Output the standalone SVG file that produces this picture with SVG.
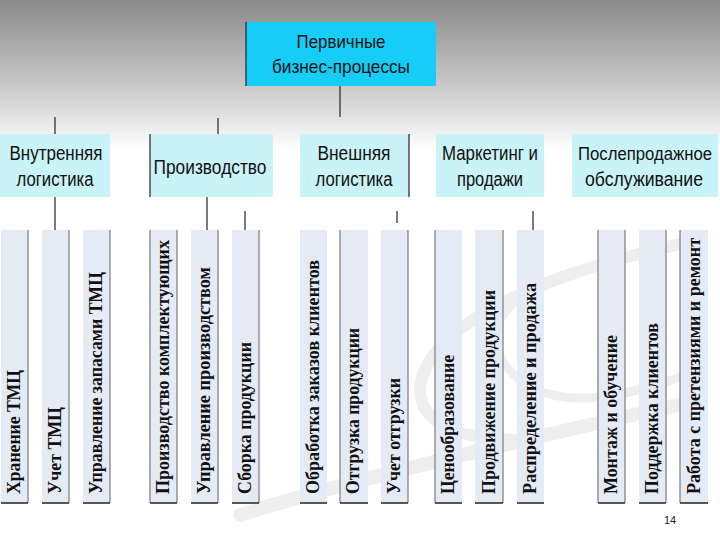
<svg xmlns="http://www.w3.org/2000/svg" width="720" height="540" viewBox="0 0 720 540">
<defs>
<linearGradient id="bg" x1="0" y1="0" x2="0" y2="1">
<stop offset="0" stop-color="#8a8a8a"/>
<stop offset="0.55" stop-color="#c6c6c6"/>
<stop offset="1" stop-color="#ffffff"/>
</linearGradient>
</defs>
<style>
.top{fill:#15cdf7}
.cat{fill:#c9f3f6}
.bar{fill:#e5ebf5}
.ct{font-family:"Liberation Sans",Arial,sans-serif;font-size:20px;fill:#111;text-anchor:middle}
.tt{font-family:"Liberation Sans",Arial,sans-serif;font-size:19px;fill:#111;text-anchor:middle}
.bt{font-family:"Liberation Serif","Times New Roman",serif;font-size:18px;font-weight:bold;fill:#111}
.ln{stroke:#222;stroke-width:1.2;fill:none}
.sh{stroke:#7a7a7a;stroke-width:1.2}
.bl{stroke:#222;stroke-width:1.5}
.sw{fill:none;stroke:#eeeeee;stroke-linecap:round}
</style>
<rect width="720" height="540" fill="#fff"/>
<rect width="720" height="150" fill="url(#bg)"/>
<g id="decor">
<path class="sw" stroke-width="12" d="M700 240 C600 260 470 300 430 360 C400 410 440 440 520 440"/>
<path class="sw" stroke-width="9" d="M580 270 C500 290 470 340 520 380 C560 410 620 400 700 370"/>
<path class="sw" stroke-width="14" d="M240 515 C350 480 520 440 700 400"/>
</g>
<g id="n0"><rect class="top" x="246" y="22" width="190" height="64"/><line class="ln" x1="246" y1="22" x2="246" y2="86"/>
<text class="tt" x="341" y="48" textLength="89" lengthAdjust="spacingAndGlyphs">Первичные</text><text class="tt" x="341" y="73" textLength="138" lengthAdjust="spacingAndGlyphs">бизнес-процессы</text></g>
<g id="c1"><rect class="cat" x="0" y="134" width="110" height="63"/><text class="ct" x="56" y="160" textLength="93" lengthAdjust="spacingAndGlyphs">Внутренняя</text><text class="ct" x="55" y="186" textLength="77" lengthAdjust="spacingAndGlyphs">логистика</text></g>
<g id="c2"><rect class="cat" x="150" y="134" width="123" height="63"/><line class="ln" x1="150" y1="134" x2="150" y2="197"/><text class="ct" x="210" y="174" textLength="113" lengthAdjust="spacingAndGlyphs">Производство</text></g>
<g id="c3"><rect class="cat" x="300" y="134" width="109" height="63"/><line class="ln" x1="409" y1="134" x2="409" y2="197" stroke="#555"/><text class="ct" x="354" y="160" textLength="73" lengthAdjust="spacingAndGlyphs">Внешняя</text><text class="ct" x="354" y="186" textLength="77" lengthAdjust="spacingAndGlyphs">логистика</text></g>
<g id="c4"><rect class="cat" x="436" y="134" width="108" height="63"/><text class="ct" x="490" y="160" textLength="96" lengthAdjust="spacingAndGlyphs">Маркетинг и</text><text class="ct" x="490" y="186" textLength="66" lengthAdjust="spacingAndGlyphs">продажи</text></g>
<g id="c5"><rect class="cat" x="572" y="134" width="146" height="63"/><text class="ct" x="645" y="160" style="font-size:17.5px" textLength="134" lengthAdjust="spacingAndGlyphs">Послепродажное</text><text class="ct" x="644" y="186" textLength="118" lengthAdjust="spacingAndGlyphs">обслуживание</text></g>
<g id="connectors">
<line class="ln" x1="340" y1="86" x2="340" y2="117"/>
<line class="ln" x1="55" y1="117" x2="55" y2="134"/>
<line class="ln" x1="218" y1="118" x2="218" y2="134"/>
<line class="ln" x1="55" y1="197" x2="55" y2="230"/>
<line class="ln" x1="207" y1="197" x2="207" y2="230"/>
<line class="ln" x1="245" y1="211" x2="245" y2="230"/>
<line class="ln" x1="397" y1="211" x2="397" y2="223"/>
<line class="ln" x1="533" y1="211" x2="533" y2="230"/>
</g>
<g id="b1"><rect class="bar" x="1" y="230" width="27" height="273"/><line class="sh" x1="28" y1="230" x2="28" y2="503" stroke="#555"/><line class="bl" x1="1" y1="503" x2="28" y2="503"/><text class="bt" transform="translate(20,494) rotate(-90)" textLength="124" lengthAdjust="spacingAndGlyphs">Хранение ТМЦ</text></g>
<g id="b2"><rect class="bar" x="42" y="230" width="27" height="273"/><line class="sh" x1="69" y1="230" x2="69" y2="503"/><line class="bl" x1="42" y1="503" x2="69" y2="503"/><text class="bt" transform="translate(61,494) rotate(-90)" textLength="87" lengthAdjust="spacingAndGlyphs">Учет ТМЦ</text></g>
<g id="b3"><rect class="bar" x="83" y="230" width="27" height="273"/><line class="sh" x1="110" y1="230" x2="110" y2="503"/><line class="bl" x1="83" y1="503" x2="110" y2="503"/><text class="bt" transform="translate(102,494) rotate(-90)" textLength="222" lengthAdjust="spacingAndGlyphs">Управление запасами ТМЦ</text></g>
<g id="b4"><rect class="bar" x="150" y="230" width="27" height="273"/><line class="sh" x1="150" y1="230" x2="150" y2="503" stroke="#333"/><line class="sh" x1="177" y1="230" x2="177" y2="503"/><line class="bl" x1="150" y1="503" x2="177" y2="503"/><text class="bt" transform="translate(169,494) rotate(-90)" textLength="254" lengthAdjust="spacingAndGlyphs">Производство комплектующих</text></g>
<g id="b5"><rect class="bar" x="191" y="230" width="27" height="273"/><line class="sh" x1="218" y1="230" x2="218" y2="503"/><line class="bl" x1="191" y1="503" x2="218" y2="503"/><text class="bt" transform="translate(210,494) rotate(-90)" textLength="227" lengthAdjust="spacingAndGlyphs">Управление производством</text></g>
<g id="b6"><rect class="bar" x="232" y="230" width="27" height="273"/><line class="sh" x1="259" y1="230" x2="259" y2="503"/><line class="bl" x1="232" y1="503" x2="259" y2="503"/><text class="bt" transform="translate(251,494) rotate(-90)" textLength="152" lengthAdjust="spacingAndGlyphs">Сборка продукции</text></g>
<g id="b7"><rect class="bar" x="300" y="230" width="27" height="273"/><line class="bl" x1="300" y1="503" x2="327" y2="503"/><text class="bt" transform="translate(319,494) rotate(-90)" textLength="234" lengthAdjust="spacingAndGlyphs">Обработка заказов клиентов</text></g>
<g id="b8"><rect class="bar" x="340" y="230" width="28" height="273"/><line class="sh" x1="340" y1="230" x2="340" y2="503" stroke="#333"/><line class="bl" x1="340" y1="503" x2="368" y2="503"/><text class="bt" transform="translate(359,494) rotate(-90)" textLength="166" lengthAdjust="spacingAndGlyphs">Отгрузка продукции</text></g>
<g id="b9"><rect class="bar" x="381" y="230" width="27" height="273"/><line class="sh" x1="408" y1="230" x2="408" y2="503" stroke="#555"/><line class="bl" x1="381" y1="503" x2="408" y2="503"/><text class="bt" transform="translate(400,494) rotate(-90)" textLength="116" lengthAdjust="spacingAndGlyphs">Учет отгрузки</text></g>
<g id="b10"><rect class="bar" x="435" y="230" width="27" height="273"/><line class="sh" x1="435" y1="230" x2="435" y2="503" stroke="#aaa"/><line class="bl" x1="435" y1="503" x2="462" y2="503"/><text class="bt" transform="translate(454,494) rotate(-90)" textLength="139" lengthAdjust="spacingAndGlyphs">Ценообразование</text></g>
<g id="b11"><rect class="bar" x="475" y="230" width="28" height="273"/><line class="sh" x1="503" y1="230" x2="503" y2="503" stroke="#222"/><line class="bl" x1="475" y1="503" x2="503" y2="503"/><text class="bt" transform="translate(495,494) rotate(-90)" textLength="204" lengthAdjust="spacingAndGlyphs">Продвижение продукции</text></g>
<g id="b12"><rect class="bar" x="517" y="230" width="27" height="273"/><line class="bl" x1="517" y1="503" x2="544" y2="503"/><text class="bt" transform="translate(536,494) rotate(-90)" textLength="211" lengthAdjust="spacingAndGlyphs">Распределение и продажа</text></g>
<g id="b13"><rect class="bar" x="598" y="230" width="27" height="273"/><line class="sh" x1="598" y1="230" x2="598" y2="503" stroke="#999"/><line class="sh" x1="625" y1="230" x2="625" y2="503"/><line class="bl" x1="598" y1="503" x2="625" y2="503"/><text class="bt" transform="translate(617,494) rotate(-90)" textLength="159" lengthAdjust="spacingAndGlyphs">Монтаж и обучение</text></g>
<g id="b14"><rect class="bar" x="639" y="230" width="27" height="273"/><line class="sh" x1="666" y1="230" x2="666" y2="503" stroke="#444"/><line class="bl" x1="639" y1="503" x2="666" y2="503"/><text class="bt" transform="translate(658,494) rotate(-90)" textLength="171" lengthAdjust="spacingAndGlyphs">Поддержка клиентов</text></g>
<g id="b15"><rect class="bar" x="680" y="230" width="28" height="273"/><line class="sh" x1="680" y1="230" x2="680" y2="503" stroke="#999"/><line class="bl" x1="680" y1="503" x2="708" y2="503"/><text class="bt" transform="translate(700,494) rotate(-90)" textLength="256" lengthAdjust="spacingAndGlyphs">Работа с претензиями и ремонт</text></g>
<text x="670" y="524" font-family="Liberation Sans,Arial,sans-serif" font-size="11" fill="#222" text-anchor="middle">14</text>
</svg>
